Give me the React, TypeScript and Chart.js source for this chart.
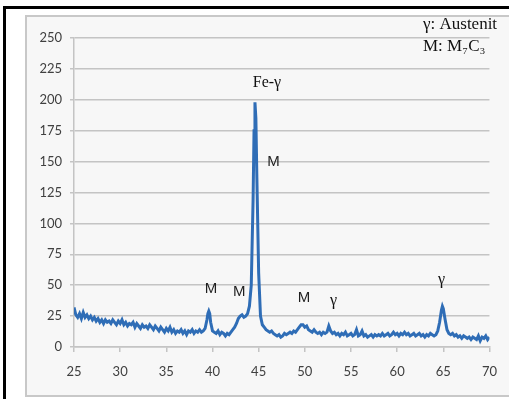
import React, { useEffect, useRef } from "react";
import { Chart, registerables } from "chart.js";

Chart.register(...registerables);

const twoTheta: number[] = [
  25.0, 25.2, 25.4, 25.6, 25.8, 26.0, 26.2, 26.4, 26.6, 26.8,
  27.0, 27.2, 27.4, 27.6, 27.8, 28.0, 28.2, 28.4, 28.6, 28.8,
  29.0, 29.2, 29.4, 29.6, 29.8, 30.0, 30.2, 30.4, 30.6, 30.8,
  31.0, 31.2, 31.4, 31.6, 31.8, 32.0, 32.2, 32.4, 32.6, 32.8,
  33.0, 33.2, 33.4, 33.6, 33.8, 34.0, 34.2, 34.4, 34.6, 34.8,
  35.0, 35.2, 35.4, 35.6, 35.8, 36.0, 36.2, 36.4, 36.6, 36.8,
  37.0, 37.2, 37.4, 37.6, 37.8, 38.0, 38.2, 38.4, 38.6, 38.8,
  39.0, 39.2, 39.4, 39.5, 39.6, 39.7, 39.8, 40.0, 40.2, 40.4,
  40.6, 40.8, 41.0, 41.2, 41.4, 41.6, 41.8, 42.0, 42.2, 42.4,
  42.6, 42.8, 43.0, 43.2, 43.4, 43.6, 43.8, 44.0, 44.2, 44.4,
  44.5, 44.6, 44.7, 44.8, 45.0, 45.2, 45.4, 45.6, 45.8, 46.0,
  46.2, 46.4, 46.6, 46.8, 47.0, 47.2, 47.4, 47.6, 47.8, 48.0,
  48.2, 48.4, 48.6, 48.8, 49.0, 49.2, 49.4, 49.6, 49.8, 50.0,
  50.2, 50.4, 50.6, 50.8, 51.0, 51.2, 51.4, 51.6, 51.8, 52.0,
  52.2, 52.4, 52.6, 52.8, 53.0, 53.2, 53.4, 53.6, 53.8, 54.0,
  54.2, 54.4, 54.6, 54.8, 55.0, 55.2, 55.4, 55.6, 55.8, 56.0,
  56.2, 56.4, 56.6, 56.8, 57.0, 57.2, 57.4, 57.6, 57.8, 58.0,
  58.2, 58.4, 58.6, 58.8, 59.0, 59.2, 59.4, 59.6, 59.8, 60.0,
  60.2, 60.4, 60.6, 60.8, 61.0, 61.2, 61.4, 61.6, 61.8, 62.0,
  62.2, 62.4, 62.6, 62.8, 63.0, 63.2, 63.4, 63.6, 63.8, 64.0,
  64.2, 64.4, 64.6, 64.8, 64.9, 65.0, 65.2, 65.4, 65.6, 65.8,
  66.0, 66.2, 66.4, 66.6, 66.8, 67.0, 67.2, 67.4, 67.6, 67.8,
  68.0, 68.2, 68.4, 68.6, 68.8, 69.0, 69.2, 69.4, 69.6, 69.8,
  70.0,
];

const intensity: number[] = [
  32, 26, 24, 27, 23, 28, 24, 26, 23, 25,
  22, 24, 21, 23, 20, 22, 19, 22, 20, 21,
  19, 22, 20, 18, 21, 19, 22, 18, 20, 17,
  19, 18, 20, 16, 19, 17, 15, 18, 16, 17,
  15, 18, 16, 14, 17, 15, 13, 16, 14, 12,
  15, 13, 16, 12, 14, 11, 13, 12, 14, 11,
  13, 10, 13, 12, 14, 11, 13, 12, 14, 12,
  13, 15, 22, 27, 29, 27, 20, 13, 12, 11,
  13, 10, 12, 11, 9, 11, 10, 12, 14, 16,
  19, 23, 25, 26, 24, 25, 27, 33, 50, 120,
  175, 198, 185, 140, 60, 25, 18, 16, 14, 13,
  12, 13, 11, 10, 9, 10, 8, 9, 11, 10,
  11, 12, 11, 13, 12, 14, 16, 18, 18, 16,
  17, 14, 13, 12, 14, 12, 11, 12, 10, 12,
  11, 12, 17, 13, 11, 12, 10, 11, 9, 11,
  10, 12, 9, 10, 11, 9, 10, 14, 9, 10,
  13, 9, 10, 8, 9, 10, 8, 10, 9, 10,
  9, 11, 9, 10, 11, 9, 10, 12, 10, 11,
  9, 11, 10, 12, 10, 11, 9, 10, 11, 9,
  10, 11, 9, 10, 8, 10, 9, 11, 10, 9,
  10, 13, 20, 30, 33, 31, 22, 14, 11, 10,
  11, 9, 10, 8, 9, 7, 9, 8, 7, 8,
  6, 8, 7, 6, 9, 5, 8, 7, 9, 6,
  8,
];

const xTicks = [25, 30, 35, 40, 45, 50, 55, 60, 65, 70];
const yMax = 250;
const yStep = 25;

// peak annotations: [text, 2θ, intensity, font kind]
const peakLabels: [string, number, number, string][] = [
  ["Fe-γ", 45.9, 214, "serif"],
  ["M", 46.6, 150, "sans"],
  ["M", 39.85, 47, "sans"],
  ["M", 42.9, 45, "sans"],
  ["M", 49.9, 40, "sans"],
  ["γ", 53.1, 37, "serif"],
  ["γ", 64.8, 54, "serif"],
];

const legendLines = ["γ: Austenit", "M: M₇C₃"];

export default function App() {
  const ref = useRef<HTMLCanvasElement | null>(null);

  useEffect(() => {
    if (!ref.current) return;
    const points = twoTheta.map((x, i) => ({ x, y: intensity[i] }));

    const framePlugin = {
      id: "frame",
      beforeDraw(chart: any) {
        const ctx = chart.ctx;
        ctx.save();
        ctx.fillStyle = "#ffffff";
        ctx.fillRect(0, 0, chart.width, chart.height);
        ctx.fillStyle = "#f7f7f7";
        ctx.fillRect(26, 16, chart.width - 26 + 5, chart.height - 16 - 3);
        ctx.strokeStyle = "#c8c8c8";
        ctx.lineWidth = 2;
        ctx.strokeRect(26, 16, chart.width - 26 + 5, chart.height - 16 - 3);
        ctx.fillStyle = "#000000";
        ctx.fillRect(3, 6, chart.width - 3, 3);
        ctx.fillRect(3, 6, 3, chart.height - 6);
        ctx.restore();
      },
      afterDatasetsDraw(chart: any) {
        const ctx = chart.ctx;
        const xs = chart.scales.x;
        const ys = chart.scales.y;
        ctx.save();
        ctx.textAlign = "center";
        ctx.textBaseline = "middle";
        for (const [t, x, y, kind] of peakLabels) {
          ctx.fillStyle = kind === "serif" ? "#111111" : "#1f1f1f";
          ctx.font = kind === "serif" ? "16px 'Liberation Serif'" : "15px 'Liberation Sans'";
          ctx.fillText(t, xs.getPixelForValue(x), ys.getPixelForValue(y));
        }
        ctx.textAlign = "left";
        ctx.fillStyle = "#111111";
        ctx.font = "17px 'Liberation Serif'";
        legendLines.forEach((l, i) => {
          ctx.fillText(l, 423, 25 + i * 22);
        });
        ctx.restore();
      },
    };

    const chart = new Chart(ref.current, {
      type: "line",
      data: {
        datasets: [
          {
            data: points,
            borderColor: "#2f6db6",
            borderWidth: 3,
            pointRadius: 0,
            tension: 0,
            fill: false,
          },
        ],
      },
      options: {
        animation: false,
        responsive: false,
        devicePixelRatio: 1,
        parsing: false as any,
        layout: { padding: { left: 0, right: 16, top: 38, bottom: 0 } },
        plugins: {
          legend: { display: false },
          tooltip: { enabled: false },
        },
        scales: {
          x: {
            type: "linear",
            min: 25,
            max: 70,
            afterBuildTicks: (s: any) => {
              s.ticks = xTicks.map((v) => ({ value: v }));
            },
            afterFit: (s: any) => {
              s.height = 52;
            },
            ticks: {
              color: "#404040",
              font: { family: "Lato", size: 13 },
              padding: 12,
              maxRotation: 0,
            },
            grid: {
              drawOnChartArea: false,
              drawTicks: true,
              tickLength: 5,
              color: "#c4c4c4",
              lineWidth: 1.5,
            },
            border: { display: true, color: "#c4c4c4", width: 1.5 },
          },
          y: {
            type: "linear",
            min: 0,
            max: yMax,
            afterFit: (s: any) => {
              s.width = 74;
            },
            ticks: {
              stepSize: yStep,
              color: "#404040",
              font: { family: "Lato", size: 13 },
              padding: 8,
            },
            grid: {
              color: "#c4c4c4",
              lineWidth: 1.5,
              tickLength: 4,
            },
            border: { display: true, color: "#c4c4c4", width: 1.5 },
          },
        },
      },
      plugins: [framePlugin],
    });
    return () => chart.destroy();
  }, []);

  return (
    <div style={{ position: "fixed", left: 0, top: 0, width: 509, height: 399 }}>
      <canvas ref={ref} width={509} height={399} style={{ display: "block" }} />
    </div>
  );
}
